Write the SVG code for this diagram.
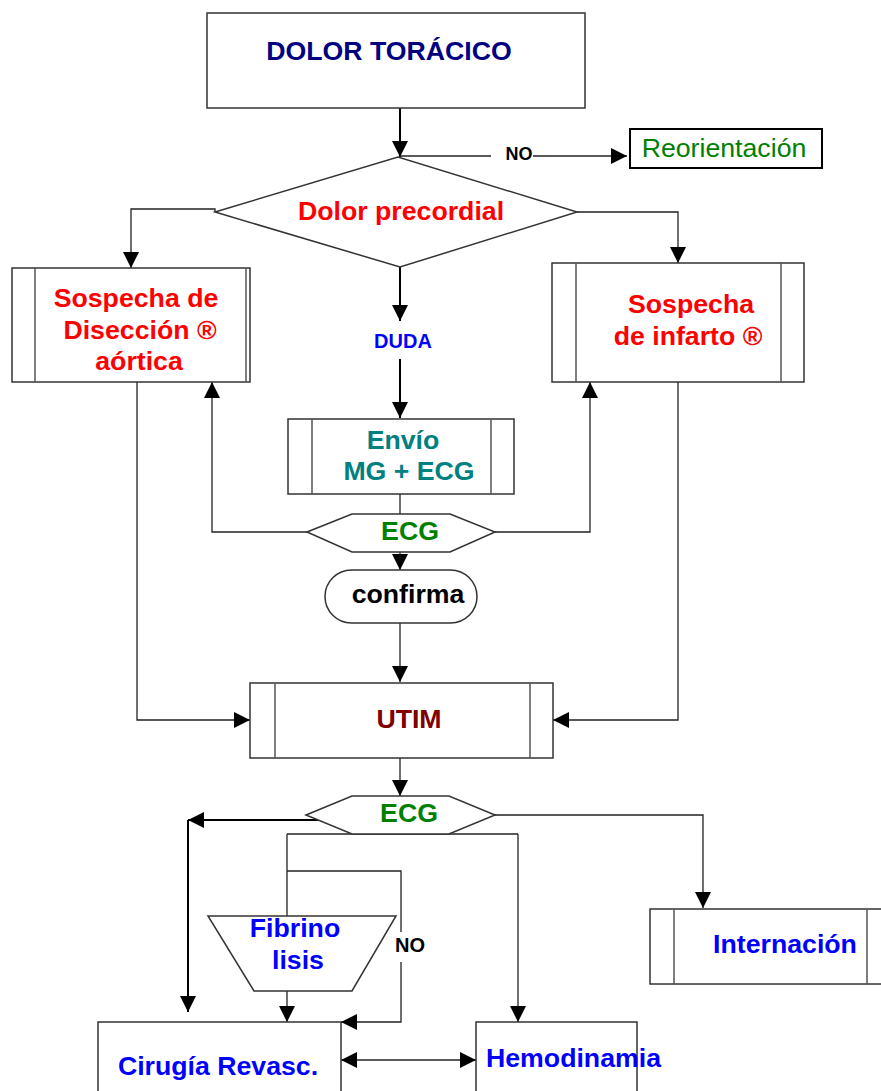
<svg xmlns="http://www.w3.org/2000/svg" width="881" height="1091" viewBox="0 0 881 1091">
<style>
.box{fill:#fff;stroke:#333;stroke-width:1.5}
.in{stroke:#555;stroke-width:1.5;fill:none}
.c{fill:none;stroke:#222;stroke-width:1.3}
.ct{fill:none;stroke:#000;stroke-width:2}
text{font-family:"Liberation Sans",Arial,sans-serif;font-weight:bold;font-size:26.7px;text-anchor:middle}
.red{fill:#ff0000}.blue{fill:#0000ff}.green{fill:#008000}.teal{fill:#008080}.navy{fill:#000080}.dred{fill:#800000}.blk{fill:#000}
</style>
<defs>
<marker id="a" markerUnits="userSpaceOnUse" markerWidth="16" markerHeight="16" viewBox="0 0 14 14" refX="14" refY="7" orient="auto">
<path d="M0,0 L14,7 L0,14 Z" fill="#000"/>
</marker>
<marker id="as" markerUnits="userSpaceOnUse" markerWidth="16" markerHeight="16" viewBox="0 0 14 14" refX="0" refY="7" orient="auto">
<path d="M14,0 L0,7 L14,14 Z" fill="#000"/>
</marker>
</defs>

<g id="connectors">
<path class="ct" d="M400,108 L400,157" marker-end="url(#a)"/>
<path class="c" d="M400,156 L491,156"/>
<path class="c" d="M533,156 L627,156" marker-end="url(#a)"/>
<path class="c" d="M215,212 L215,209 L131,209 L131,268" marker-end="url(#a)"/>
<path class="c" d="M577,212 L678,212 L678,263" marker-end="url(#a)"/>
<path class="ct" d="M400,267 L400,321" marker-end="url(#a)"/>
<path class="ct" d="M400,359 L400,418" marker-end="url(#a)"/>
<path class="c" d="M400,494 L400,514"/>
<path class="c" d="M307,532 L212,532 L212,382" marker-end="url(#a)"/>
<path class="c" d="M495,532 L590,532 L590,382" marker-end="url(#a)"/>
<path class="c" d="M400,552 L400,570" marker-end="url(#a)"/>
<path class="c" d="M400,623 L400,682" marker-end="url(#a)"/>
<path class="c" d="M137,382 L137,720 L250,720" marker-end="url(#a)"/>
<path class="c" d="M678,382 L678,720 L553,720" marker-end="url(#a)"/>
<path class="c" d="M400,758 L400,796" marker-end="url(#a)"/>
<path class="c" d="M495,815 L703,815 L703,908" marker-end="url(#a)"/>
<path class="ct" d="M323,820 L188,820" marker-end="url(#a)"/>
<path class="ct" d="M188,820 L188,1012" marker-end="url(#a)"/>
<path class="c" d="M287,834 L518,834"/>
<path class="c" d="M287,834 L287,916"/>
<path class="c" d="M518,834 L518,1022" marker-end="url(#a)"/>
<path class="c" d="M287,871 L401,871 L401,932"/>
<path class="c" d="M401,962 L401,1022 L341,1022" marker-end="url(#a)"/>
<path class="c" d="M287,991 L287,1022" marker-end="url(#a)"/>
<path class="c" d="M341,1060 L476,1060" marker-start="url(#as)" marker-end="url(#a)"/>
<text x="519" y="160" class="blk" style="font-size:18px">NO</text>
<text x="410" y="952" class="blk" style="font-size:20px">NO</text>
<text x="403" y="348" class="blue" style="font-size:20px">DUDA</text>
</g>

<g id="dolor-toracico">
<rect class="box" x="207" y="13" width="378" height="95"/>
<text x="389" y="60" class="navy">DOLOR TORÁCICO</text>
</g>

<g id="reorientacion">
<rect x="630" y="129" width="192" height="39" fill="#fff" stroke="#000" stroke-width="2"/>
<text x="724" y="157" class="green" style="font-weight:normal">Reorientación</text>
</g>

<g id="dolor-precordial">
<polygon class="box" points="215,212 398,157 577,212 400,267"/>
<text x="401" y="220" class="red">Dolor precordial</text>
</g>

<g id="sospecha-diseccion">
<rect class="box" x="12" y="268" width="238" height="114"/>
<line class="in" x1="35" y1="268" x2="35" y2="382"/>
<line class="in" x1="246" y1="268" x2="246" y2="382"/>
<text x="136" y="307" class="red">Sospecha de</text>
<text x="140" y="339" class="red">Disección ®</text>
<text x="139" y="370" class="red">aórtica</text>
</g>

<g id="sospecha-infarto">
<rect class="box" x="552" y="263" width="252" height="119"/>
<line class="in" x1="576" y1="263" x2="576" y2="382"/>
<line class="in" x1="781" y1="263" x2="781" y2="382"/>
<text x="691" y="313" class="red">Sospecha</text>
<text x="688" y="345" class="red">de infarto ®</text>
</g>

<g id="envio">
<rect class="box" x="288" y="419" width="226" height="75"/>
<line class="in" x1="312" y1="419" x2="312" y2="494"/>
<line class="in" x1="491" y1="419" x2="491" y2="494"/>
<text x="403" y="449" class="teal">Envío</text>
<text x="409" y="480" class="teal">MG + ECG</text>
</g>

<g id="ecg1">
<polygon class="box" points="307,532 352,514 450,514 495,532 450,552 352,552"/>
<text x="410" y="540" class="green">ECG</text>
</g>

<g id="confirma">
<rect class="box" x="325" y="570" width="152" height="53" rx="26.5" ry="26.5"/>
<text x="408" y="603" class="blk">confirma</text>
</g>

<g id="utim">
<rect class="box" x="250" y="683" width="303" height="75"/>
<line class="in" x1="275" y1="683" x2="275" y2="758"/>
<line class="in" x1="530" y1="683" x2="530" y2="758"/>
<text x="409" y="728" class="dred">UTIM</text>
</g>

<g id="ecg2">
<polygon class="box" points="306,815 352,796 449,796 495,815 449,834 352,834"/>
<text x="409" y="822" class="green">ECG</text>
</g>

<g id="internacion">
<rect class="box" x="650" y="909" width="240" height="75"/>
<line class="in" x1="674" y1="909" x2="674" y2="984"/>
<line class="in" x1="867" y1="909" x2="867" y2="984"/>
<text x="785" y="953" class="blue">Internación</text>
</g>

<g id="fibrinolisis">
<polygon class="box" points="208,916 396,916 352,991 254,991"/>
<text x="295" y="937" class="blue">Fibrino</text>
<text x="298" y="969" class="blue">lisis</text>
</g>

<g id="cirugia">
<rect class="box" x="98" y="1022" width="243" height="80"/>
<text x="218" y="1075" class="blue">Cirugía Revasc.</text>
</g>

<g id="hemodinamia">
<rect class="box" x="476" y="1022" width="161" height="80"/>
<text x="486" y="1067" class="blue" style="text-anchor:start">Hemodinamia</text>
</g>
</svg>
